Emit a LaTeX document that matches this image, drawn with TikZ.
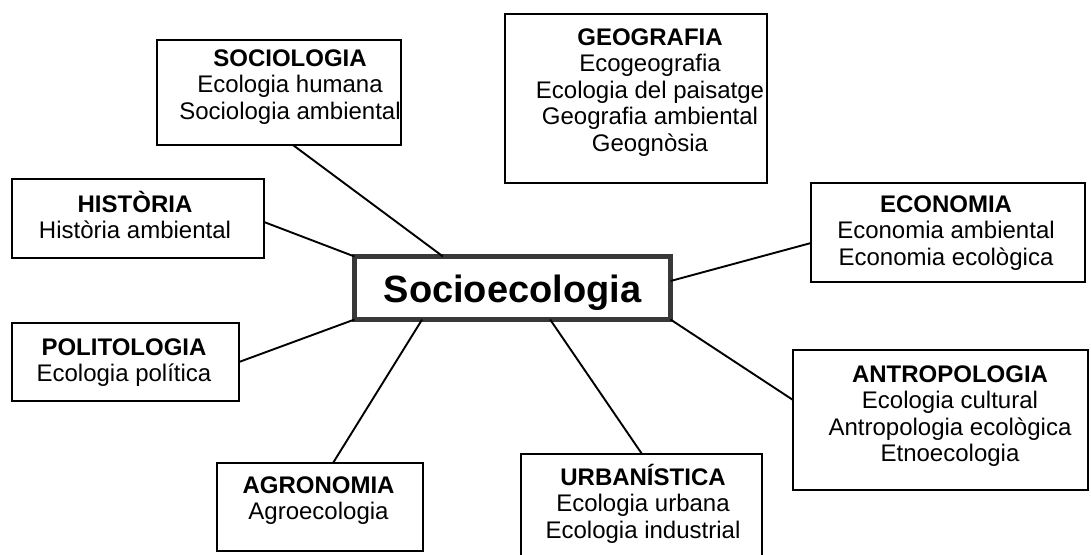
\documentclass[tikz,border=0pt]{standalone}
\usepackage{fontspec}
\setmainfont{Liberation Sans}
\usetikzlibrary{calc}
\definecolor{hubgray}{HTML}{383838}
\begin{document}
\begin{tikzpicture}[x=1pt,y=-1pt,
  box/.style={draw=black, line width=1.9pt, inner sep=0pt, outer sep=0pt},
  hub/.style={draw=hubgray, line width=5pt, inner sep=0pt, outer sep=0pt},
  lbl/.style={align=center, inner sep=0pt, anchor=base, font=\fontsize{24}{26.5}\selectfont},
  hublbl/.style={inner sep=0pt, anchor=base, font=\fontsize{38}{40}\selectfont\bfseries},
  link/.style={line width=1.9pt}]
\useasboundingbox (0,0) rectangle (1091,554);
\clip (0,0) rectangle (1091,554);
% boxes
\node[hub, minimum width=316pt, minimum height=63pt] (hub) at (512.5,288) {};
\node[box, minimum width=244pt, minimum height=105pt] (soc) at (279,92.5) {};
\node[box, minimum width=262pt, minimum height=169pt] (geo) at (636,98.5) {};
\node[box, minimum width=252pt, minimum height=79pt] (hist) at (138,218.5) {};
\node[box, minimum width=227pt, minimum height=78pt] (pol) at (125.5,362) {};
\node[box, minimum width=274pt, minimum height=99pt] (econ) at (948,232.5) {};
\node[box, minimum width=295pt, minimum height=140pt] (ant) at (940.5,420) {};
\node[box, minimum width=241pt, minimum height=121pt] (urb) at (641.5,514.5) {};
\node[box, minimum width=206pt, minimum height=88pt] (agro) at (320,507) {};
% texts (anchor base = baseline of the last line)
\node[hublbl] (hubt) at (512.5,302) {Socioecologia};
\node[lbl] (soct) at (290,119) {\textbf{SOCIOLOGIA}\\Ecologia humana\\Sociologia ambiental};
\node[lbl] (geot) at (650,151) {\textbf{GEOGRAFIA}\\Ecogeografia\\Ecologia del paisatge\\Geografia ambiental\\Geognòsia};
\node[lbl] (histt) at (135,238.5) {\textbf{HISTÒRIA}\\Història ambiental};
\node[lbl] (polt) at (124,381.5) {\textbf{POLITOLOGIA}\\Ecologia política};
\node[lbl] (econt) at (946,265) {\textbf{ECONOMIA}\\Economia ambiental\\Economia ecològica};
\node[lbl] (antt) at (950,461.5) {\textbf{ANTROPOLOGIA}\\Ecologia cultural\\Antropologia ecològica\\Etnoecologia};
\node[lbl] (urbt) at (643,538) {\textbf{URBANÍSTICA}\\Ecologia urbana\\Ecologia industrial};
\node[lbl] (agrot) at (318.5,519.5) {\textbf{AGRONOMIA}\\Agroecologia};
% connectors
\draw[link] ($(soc.south west)!0.557!(soc.south east)$) -- ($(hub.north west)!0.28!(hub.north east)$);
\draw[link] ($(hist.north east)!0.544!(hist.south east)$) -- (hub.north west);
\draw[link] (pol.east) -- (hub.south west);
\draw[link] ($(agro.north west)!0.563!(agro.north east)$) -- ($(hub.south west)!0.214!(hub.south east)$);
\draw[link] ($(urb.north west)+(121,0)$) -- ($(hub.south west)!0.619!(hub.south east)$);
\draw[link] ($(ant.north west)!0.357!(ant.south west)$) -- (hub.south east);
\draw[link] ($(econ.north west)!0.606!(econ.south west)$) -- ($(hub.north east)!0.389!(hub.south east)$);
\end{tikzpicture}
\end{document}
